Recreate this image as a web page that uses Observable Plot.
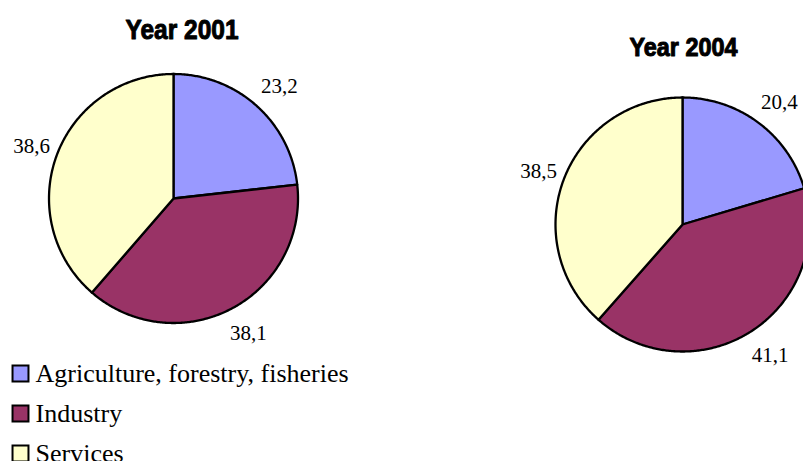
<!DOCTYPE html>
<html><head><meta charset="utf-8">
<script src="https://cdn.jsdelivr.net/npm/d3@7"></script>
<script src="https://cdn.jsdelivr.net/npm/@observablehq/plot@0.6"></script>
<style>body{margin:0;background:#fff;overflow:hidden}</style>
</head><body><div id="chart"></div>
<script>
const categories = ["Agriculture, forestry, fisheries", "Industry", "Services"];
const colors = ["#9999FF", "#993366", "#FFFFCC"];
const years = ["Year 2001", "Year 2004"];
const values2001 = [23.2, 38.1, 38.6];
const values2004 = [20.4, 41.1, 38.5];

const W = 803, H = 461;
const pies = [
  {title: years[0], values: values2001, cx: 173, cy: 198, r: 124.5, tx: 181.5, ty: 29.3, ts: 28, tl: 113},
  {title: years[1], values: values2004, cx: 682, cy: 224, r: 127, tx: 683, ty: 47, ts: 25, tl: 108}
];

const slicePts = [], labels = [], titles = [];
pies.forEach((p, pi) => {
  const arcs = d3.pie().sort(null).startAngle(0).endAngle(2 * Math.PI)(p.values);
  arcs.forEach((a, i) => {
    const key = pi + "-" + i;
    slicePts.push({key, cat: categories[i], x: p.cx, y: p.cy});
    const n = Math.max(4, Math.ceil((a.endAngle - a.startAngle) / 0.01));
    for (let k = 0; k <= n; k++) {
      const t = a.startAngle + (a.endAngle - a.startAngle) * k / n;
      slicePts.push({key, cat: categories[i], x: p.cx + p.r * Math.sin(t), y: p.cy - p.r * Math.cos(t)});
    }
    const m = (a.startAngle + a.endAngle) / 2, lr = p.r + 30;
    labels.push({x: p.cx + 3 + lr * Math.sin(m), y: p.cy + 1 - (lr - 3) * Math.cos(m), text: d3.format(".1f")(a.data).replace(".", ",")});
  });
  titles.push({x: p.tx, y: p.ty, text: p.title, size: p.ts, len: p.tl});
});

const legend = categories.map((c, i) => ({cat: c, x: 20, y: 373 + i * 40}));

const serif = "'Liberation Serif', Tinos, 'DejaVu Serif', 'Noto Serif', serif";
const svg = Plot.plot({
  width: W, height: H, margin: 0,
  x: {domain: [0, W], range: [0, W], axis: null},
  y: {domain: [0, H], range: [0, H], axis: null},
  color: {domain: categories, range: colors},
  style: {background: "white", overflow: "hidden"},
  marks: [
    Plot.line(slicePts, {x: "x", y: "y", z: "key", fill: "cat", stroke: "black", strokeWidth: 2.3, strokeLinejoin: "round", curve: "linear-closed"}),
    Plot.text(labels, {x: "x", y: "y", text: "text", fontSize: 21, fontFamily: serif, fill: "black", className: "serif"}),
    Plot.text(titles, {x: "x", y: "y", text: "text", fontSize: d => d.size, fontWeight: "bold", fontFamily: "Liberation Sans", fill: "black", stroke: "black", strokeWidth: 1, className: "titles"}),
    Plot.dot(legend, {x: "x", y: "y", fill: "cat", symbol: "square", r: 9, stroke: "black", strokeWidth: 2}),
    Plot.text(legend, {x: d => d.x + 15, y: "y", text: "cat", textAnchor: "start", fontSize: 26, fontFamily: serif, fill: "black", className: "serif"})
  ]
});
svg.querySelectorAll("g.titles text").forEach((el, i) => {
  el.setAttribute("textLength", titles[i].len);
  el.setAttribute("lengthAdjust", "spacingAndGlyphs");
});
svg.querySelectorAll("g.serif").forEach(g => g.style.fontFamily = serif);
document.getElementById("chart").appendChild(svg);
</script>
</body></html>
